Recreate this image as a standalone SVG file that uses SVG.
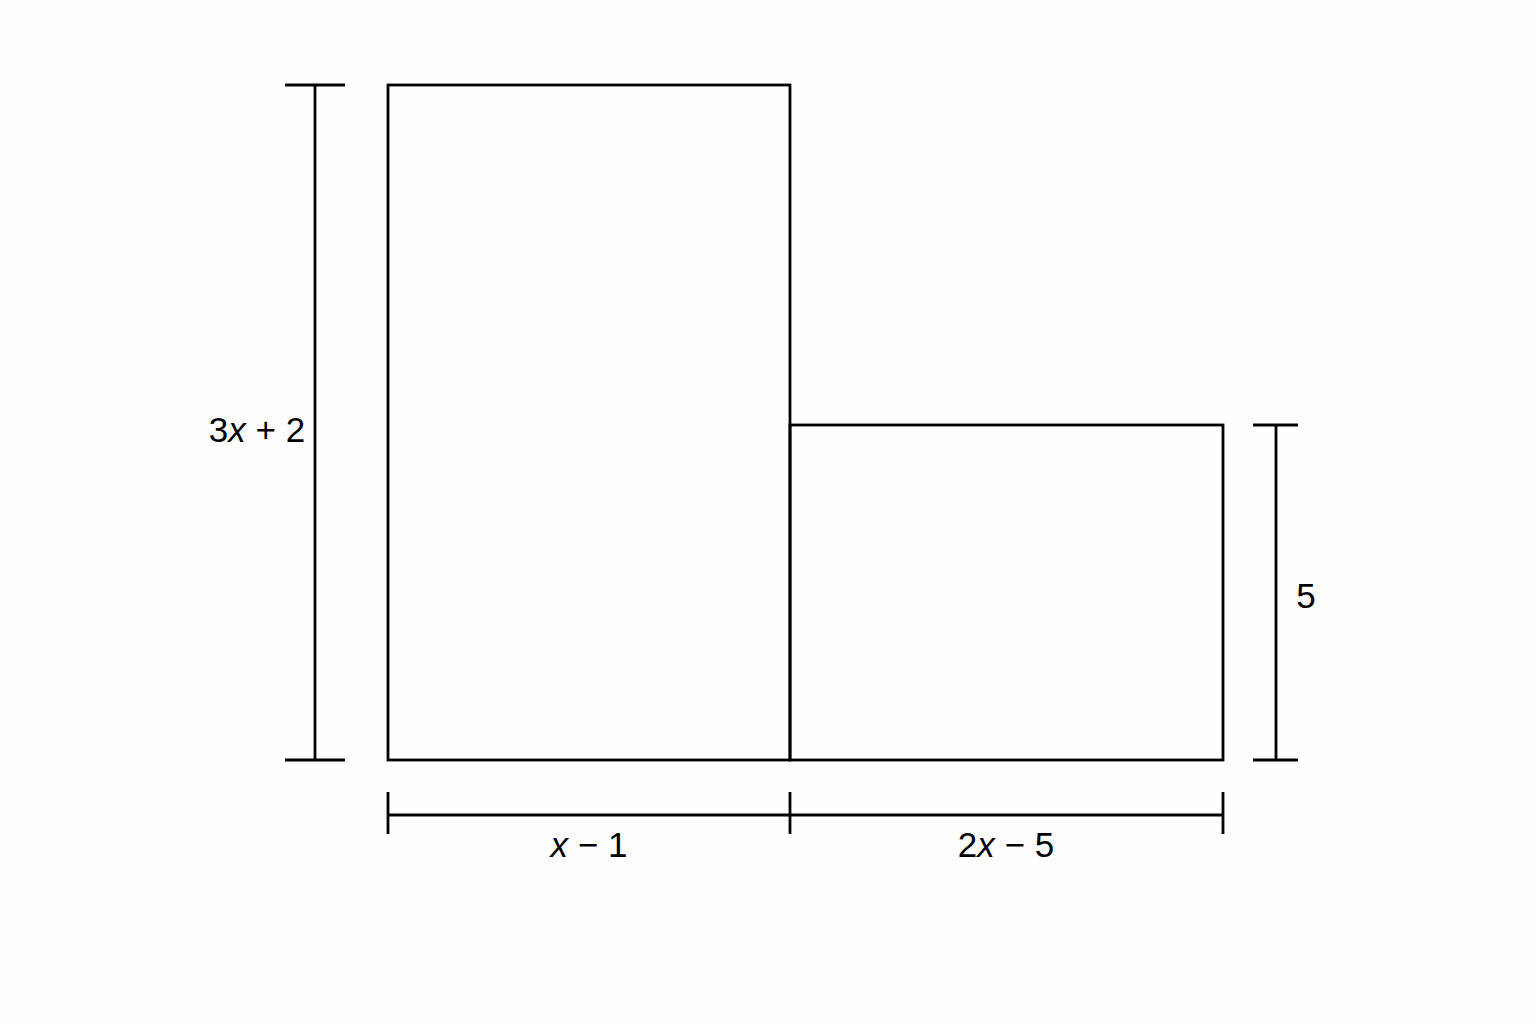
<svg xmlns="http://www.w3.org/2000/svg" width="1536" height="1024" viewBox="0 0 1536 1024">
<style>
.s{fill:none;stroke:#000;stroke-width:2.8;stroke-linecap:butt}
.t{font-family:"Liberation Sans",Arial,sans-serif;font-size:35px;fill:#000}
.i{font-style:italic}
</style>
<rect width="1536" height="1024" fill="#fefefe"/>
<g id="left-rect"><rect class="s" x="388" y="85" width="402" height="675"/></g>
<g id="right-rect"><rect class="s" x="790" y="425" width="433" height="335"/></g>
<g id="dimensions">
<path class="s" d="M315 85V760M285 85H345M285 760H345"/>
<path class="s" d="M1276 425V760M1253 425H1298M1253 760H1298"/>
<path class="s" d="M388 815H1223M388 792V834M790 792V834M1223 792V834"/>
</g>
<g id="labels">
<text class="t" x="257" y="442" text-anchor="middle">3<tspan class="i">x</tspan> + 2</text>
<text class="t" x="589" y="857" text-anchor="middle"><tspan class="i">x</tspan> − 1</text>
<text class="t" x="1006" y="857" text-anchor="middle">2<tspan class="i">x</tspan> − 5</text>
<text class="t" x="1306" y="608" text-anchor="middle">5</text>
</g>
</svg>
